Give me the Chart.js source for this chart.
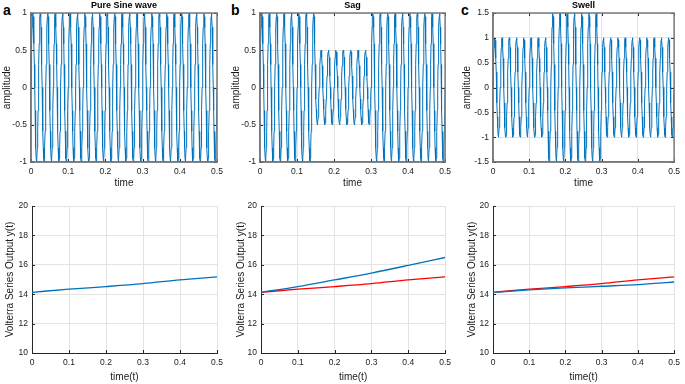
<!DOCTYPE html>
<html>
<head>
<meta charset="utf-8">
<script src="https://cdn.jsdelivr.net/npm/chart.js@4/dist/chart.umd.min.js"></script>
<style>
  body { margin: 0; background: #fff; }
  #fig { position: relative; width: 685px; height: 384px; overflow: hidden; font-family: "Liberation Sans", Arial, sans-serif; }
  #fig canvas { position: absolute; }
  .tag { position: absolute; font: bold 14px/14px "Liberation Sans", Arial, sans-serif; color: #000; }
</style>
</head>
<body>
<div id="fig">
  <div class="tag" style="left:3px;top:3px">a</div>
  <div class="tag" style="left:231px;top:3px">b</div>
  <div class="tag" style="left:461px;top:3px">c</div>
</div>
<script>
// ---- data ----
// one 50 Hz cycle sampled at 1 kHz (20 samples per cycle)
const cycleShape = [0, 0.309, 0.588, 0.809, 0.951, 1, 0.951, 0.809, 0.588, 0.309,
                    0, -0.309, -0.588, -0.809, -0.951, -1, -0.951, -0.809, -0.588, -0.309];
const sampleStep = 0.001;
const endTime = 0.5;
// disturbance window and amplitude before / during / after
const eventStart = 0.15;
const eventEnd = 0.3;
const pureAmps = [1, 1, 1];
const sagAmps = [1, 0.5, 1];
const swellAmps = [1, 1.5, 1];

// Volterra series output, read at every 0.1 s
const outTime = [0, 0.1, 0.2, 0.3, 0.4, 0.5];
const outPure = [14.13, 14.34, 14.52, 14.72, 14.97, 15.18];
const outSag = [14.13, 14.51, 14.97, 15.44, 15.96, 16.5];
const outSwell = [14.12, 14.29, 14.43, 14.54, 14.65, 14.83];

const timeTicks = [0, 0.1, 0.2, 0.3, 0.4, 0.5];

const BLUE = '#0072BD';
const RED = '#FF0000';
const FONT = '"Liberation Sans", Arial, sans-serif';
const INK = '#1a1a1a';

function wave(amps) {
  let pts = [];
  const n = Math.round(endTime / sampleStep);
  for (let i = 0; i <= n; i++) {
    const t = +(i * sampleStep).toFixed(4);
    let a = t < eventStart ? amps[0] : (t < eventEnd ? amps[1] : amps[2]);
    pts.push({x: t, y: a * cycleShape[i % cycleShape.length]});
  }
  return pts;
}

function pairs(xs, ys) {
  return xs.map((x, i) => ({x: x, y: ys[i]}));
}

const fmt = v => String(+(+v).toFixed(2));

// box, inward ticks and panel title
const decorPlugin = {
  id: 'decor',
  afterDraw(chart, args, o) {
    const a = chart.chartArea, ctx = chart.ctx;
    const xs = chart.scales.x, ys = chart.scales.y;
    ctx.save();
    ctx.strokeStyle = o.axisColor;
    ctx.lineWidth = 1;
    ctx.beginPath();
    xs.ticks.forEach(t => {
      const px = Math.round(xs.getPixelForValue(t.value)) + 0.5;
      ctx.moveTo(px, a.bottom); ctx.lineTo(px, a.bottom - 3);
      if (o.box) { ctx.moveTo(px, a.top); ctx.lineTo(px, a.top + 3); }
    });
    ys.ticks.forEach(t => {
      const py = Math.round(ys.getPixelForValue(t.value)) + 0.5;
      ctx.moveTo(a.left, py); ctx.lineTo(a.left + 3, py);
      if (o.box) { ctx.moveTo(a.right, py); ctx.lineTo(a.right - 3, py); }
    });
    ctx.stroke();
    if (o.box) {
      ctx.strokeStyle = o.boxColor;
      ctx.lineWidth = 1.5;
      ctx.strokeRect(a.left, a.top, a.right - a.left, a.bottom - a.top);
    }
    if (o.title) {
      ctx.fillStyle = '#000';
      ctx.font = 'bold 9px ' + FONT;
      ctx.textAlign = 'center';
      ctx.textBaseline = 'middle';
      ctx.fillText(o.title, (a.left + a.right) / 2, a.top - 7);
    }
    ctx.restore();
  }
};

function panel(p) {
  const cv = document.createElement('canvas');
  cv.style.left = p.cx + 'px';
  cv.style.top = p.cy + 'px';
  cv.style.width = p.cw + 'px';
  cv.style.height = p.ch + 'px';
  cv.width = p.cw; cv.height = p.ch;
  document.getElementById('fig').appendChild(cv);
  const box = p.box;
  new Chart(cv, {
    type: 'line',
    data: { datasets: p.datasets },
    plugins: [decorPlugin],
    options: {
      responsive: false,
      animation: false,
      events: [],
      layout: { padding: { top: p.top, right: p.right, left: 0, bottom: 0 } },
      elements: { point: { radius: 0 } },
      plugins: {
        legend: { display: false },
        tooltip: { enabled: false },
        decor: { title: p.title, box: box, axisColor: '#262626', boxColor: '#7a7a7a' }
      },
      scales: {
        x: {
          type: 'linear', min: 0, max: 0.5,
          afterBuildTicks: s => { s.ticks = timeTicks.map(v => ({value: v})); },
          afterFit: s => { s.height = p.xh; },
          grid: { color: '#e3e3e3', drawTicks: false },
          border: { display: true, color: box ? '#7a7a7a' : '#262626', width: box ? 1.5 : 1 },
          ticks: { color: INK, font: { family: FONT, size: 8.5 }, padding: 5, maxRotation: 0, callback: fmt },
          title: { display: true, text: p.xTitle, color: INK, font: { family: FONT, size: 10 }, padding: { top: 0, bottom: 1 } }
        },
        y: {
          type: 'linear', min: p.ymin, max: p.ymax,
          afterBuildTicks: s => { s.ticks = p.yTicks.map(v => ({value: v})); },
          afterFit: s => { s.width = p.yw; },
          grid: { color: '#e3e3e3', drawTicks: false },
          border: { display: true, color: box ? '#7a7a7a' : '#262626', width: box ? 1.5 : 1 },
          ticks: { color: INK, font: { family: FONT, size: 8.5 }, padding: 4, callback: fmt },
          title: { display: true, text: p.yTitle, color: INK, font: { family: FONT, size: 10 }, padding: { top: p.ytp, bottom: 0 } }
        }
      }
    }
  });
}

function waveSet(amps) {
  return [{ data: wave(amps), borderColor: BLUE, borderWidth: 1, tension: 0 }];
}
function outSet(series, withRef) {
  let ds = [{ data: pairs(outTime, series), borderColor: BLUE, borderWidth: 1.3, cubicInterpolationMode: 'monotone' }];
  if (withRef) ds.push({ data: pairs(outTime, outPure), borderColor: RED, borderWidth: 1.3, cubicInterpolationMode: 'monotone' });
  return ds;
}

const ampTicks = [-1, -0.5, 0, 0.5, 1];
const ampTicksWide = [-1.5, -1, -0.5, 0, 0.5, 1, 1.5];
const outTicks = [10, 12, 14, 16, 18, 20];

// top row
panel({ cx: 0, cy: 0, cw: 228, ch: 190, yw: 31, right: 11, top: 13, xh: 28, ytp: 1,
        box: true, title: 'Pure Sine wave', xTitle: 'time', yTitle: 'amplitude',
        ymin: -1, ymax: 1, yTicks: ampTicks, datasets: waveSet(pureAmps) });
panel({ cx: 228, cy: 0, cw: 228, ch: 190, yw: 32, right: 9, top: 13, xh: 28, ytp: 2,
        box: true, title: 'Sag', xTitle: 'time', yTitle: 'amplitude',
        ymin: -1, ymax: 1, yTicks: ampTicks, datasets: waveSet(sagAmps) });
panel({ cx: 455, cy: 0, cw: 230, ch: 190, yw: 38, right: 7, top: 13, xh: 28, ytp: 6,
        box: true, title: 'Swell', xTitle: 'time', yTitle: 'amplitude',
        ymin: -1.5, ymax: 1.5, yTicks: ampTicksWide, datasets: waveSet(swellAmps) });

// bottom row
panel({ cx: 0, cy: 190, cw: 228, ch: 194, yw: 32, right: 11, top: 16, xh: 31, ytp: 4,
        box: false, title: '', xTitle: 'time(t)', yTitle: 'Volterra Series Output y(t)',
        ymin: 10, ymax: 20, yTicks: outTicks, datasets: outSet(outPure, false) });
panel({ cx: 228, cy: 190, cw: 228, ch: 194, yw: 33, right: 9, top: 16, xh: 31, ytp: 7,
        box: false, title: '', xTitle: 'time(t)', yTitle: 'Volterra Series Output y(t)',
        ymin: 10, ymax: 20, yTicks: outTicks, datasets: outSet(outSag, true) });
panel({ cx: 455, cy: 190, cw: 230, ch: 194, yw: 38, right: 7, top: 16, xh: 31, ytp: 11,
        box: false, title: '', xTitle: 'time(t)', yTitle: 'Volterra Series Output y(t)',
        ymin: 10, ymax: 20, yTicks: outTicks, datasets: outSet(outSwell, true) });
</script>
</body>
</html>
